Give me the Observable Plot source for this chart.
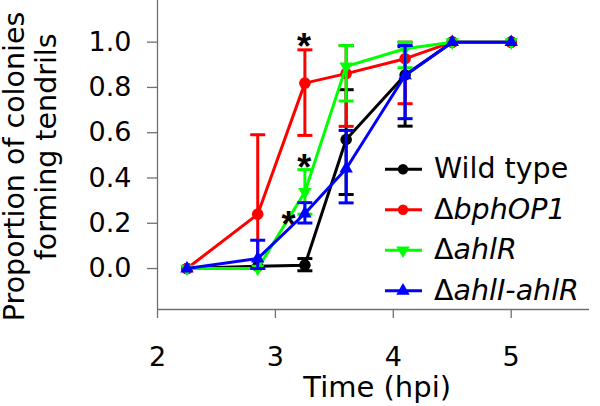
<!DOCTYPE html>
<html>
<head>
<meta charset="utf-8">
<script src="https://cdn.jsdelivr.net/npm/d3@7"></script>
<script src="https://cdn.jsdelivr.net/npm/@observablehq/plot@0.6"></script>
<style>
  html, body { margin: 0; padding: 0; background: #fff; }
  #chart svg { display: block; }
  g[aria-label$="axis tick"] { stroke: #707070; stroke-width: 1.3px; }
  g[aria-label$="axis"] .tick line { stroke: #707070; stroke-width: 1.3px; }
</style>
</head>
<body>
<div id="chart"></div>
<script>
// ---- data ----
const times = [2.25, 2.85, 3.25, 3.6, 4.1, 4.5, 5.0];

const wildType   = [0, 0.01, 0.015, 0.57, 0.855, 1, 1];
const wildTypeLo = [null, null, -0.01, 0.327, 0.629, null, null];
const wildTypeHi = [null, null, 0.044, 0.79, 0.98, null, null];

const bphOP1   = [0, 0.24, 0.819, 0.861, 0.927, 1, 1];
const bphOP1Lo = [null, 0.0, 0.588, 0.628, 0.728, null, null];
const bphOP1Hi = [null, 0.591, 0.966, 0.985, 1.0, null, null];

const ahlR   = [0, 0, 0.338, 0.893, 0.971, 1, 1];
const ahlRLo = [null, null, 0.24, 0.74, 0.887, null, null];
const ahlRHi = [null, null, 0.437, 0.985, 1.0, null, null];

const ahlIahlR   = [0, 0.044, 0.243, 0.441, 0.853, 1, 1];
const ahlIahlRLo = [null, 0.0, 0.201, 0.29, 0.662, null, null];
const ahlIahlRHi = [null, 0.125, 0.291, 0.61, 0.985, null, null];

const seriesNames   = ["Wild type", "bphOP1", "ahlR", "ahlI-ahlR"];
const seriesPrefix  = ["", "\u0394", "\u0394", "\u0394"];
const seriesItalic  = [false, true, true, true];
const seriesColors  = ["#000000", "#ff0000", "#00ff00", "#0000ff"];

const starX = [3.243, 3.244, 3.111];
const starY = [1.015, 0.481, 0.228];

const xTicks = [2, 3, 4, 5];
const yTicks = [0, 0.2, 0.4, 0.6, 0.8, 1.0];
const xLabel = "Time (hpi)";
const yLabel1 = "Proportion of colonies";
const yLabel2 = "forming tendrils";

// ---- symbols ----
const sqrt3 = Math.sqrt(3);
const triangleDown = {
  draw(ctx, size) {
    const y = -Math.sqrt(size / (sqrt3 * 3));
    ctx.moveTo(0, -y * 2);
    ctx.lineTo(-sqrt3 * y, y);
    ctx.lineTo(sqrt3 * y, y);
    ctx.closePath();
  }
};
const capSymbol = {
  draw(ctx, size) {
    const r = Math.sqrt(size / Math.PI);
    ctx.moveTo(-r, 0);
    ctx.lineTo(r, 0);
  }
};

const seriesValues = [wildType, bphOP1, ahlR, ahlIahlR];
const seriesLo = [wildTypeLo, bphOP1Lo, ahlRLo, ahlIahlRLo];
const seriesHi = [wildTypeHi, bphOP1Hi, ahlRHi, ahlIahlRHi];
const seriesSymbols = ["circle", "circle", triangleDown, "triangle"];
const seriesR = [5.8, 5.8, 5, 5];
const legendSymbols = [d3.symbolCircle, d3.symbolCircle, triangleDown, d3.symbolTriangle];
const legendR = [5.2, 5.2, 5, 5];

const FONT = "'DejaVu Sans', 'Liberation Sans', Arial, sans-serif";

const marks = [];
// axis lines (left and bottom)
marks.push(Plot.ruleX([2], {stroke: "#707070", strokeWidth: 1.3}));
marks.push(Plot.ruleY([-0.181], {stroke: "#707070", strokeWidth: 1.3}));

seriesNames.forEach((name, k) => {
  const rows = times.map((t, i) => ({t, v: seriesValues[k][i], lo: seriesLo[k][i], hi: seriesHi[k][i]}));
  const err = rows.filter(d => d.lo != null && d.hi != null);
  const color = seriesColors[k];
  marks.push(Plot.ruleX(err, {x: "t", y1: "lo", y2: "hi", stroke: color, strokeWidth: 3}));
  marks.push(Plot.dot(err, {x: "t", y: "hi", symbol: capSymbol, r: 7.5, stroke: color, strokeWidth: 3, fill: "none"}));
  marks.push(Plot.dot(err, {x: "t", y: "lo", symbol: capSymbol, r: 7.5, stroke: color, strokeWidth: 3, fill: "none"}));
  marks.push(Plot.line(rows, {x: "t", y: "v", stroke: color, strokeWidth: 3}));
  marks.push(Plot.dot(rows, {x: "t", y: "v", symbol: seriesSymbols[k], r: seriesR[k], fill: color, stroke: "none"}));
});

// significance asterisks
marks.push(Plot.text(starX.map((x, i) => ({x, y: starY[i]})), {
  x: "x", y: "y", text: () => "*", fontSize: 36, fontWeight: "bold", fontFamily: "'Liberation Sans', Arial, sans-serif",
  fill: "#000", dy: 9, lineAnchor: "middle"
}));

// axis titles
marks.push(Plot.text([yLabel1], {text: d => d, frameAnchor: "left", rotate: -90, dx: -142.3, dy: 11.4, fontSize: 28.5, lineAnchor: "middle", textAnchor: "middle"}));
marks.push(Plot.text([yLabel2], {text: d => d, frameAnchor: "left", rotate: -90, dx: -111, dy: -8.2, fontSize: 28.5, lineAnchor: "middle", textAnchor: "middle"}));
marks.push(Plot.text([xLabel], {text: d => d, frameAnchor: "bottom", lineAnchor: "top", dy: 67, dx: 3.7, fontSize: 29}));

// legend inside the plot
marks.push(() => {
  const g = d3.create("svg:g").attr("text-anchor", "start");
  const y0 = 169.3, dy = 40.5;
  seriesNames.forEach((name, k) => {
    const y = y0 + k * dy;
    g.append("line").attr("x1", 385).attr("x2", 422).attr("y1", y).attr("y2", y)
      .attr("stroke", seriesColors[k]).attr("stroke-width", 3);
    const r = legendR[k];
    g.append("path").attr("transform", `translate(403,${y})`)
      .attr("d", d3.symbol(legendSymbols[k], Math.PI * r * r)())
      .attr("fill", seriesColors[k]);
    const t = g.append("text").attr("x", 434).attr("y", y).attr("dy", "0.32em")
      .attr("text-anchor", "start")
      .attr("font-size", 28.5).attr("fill", "#000");
    if (seriesPrefix[k]) t.append("tspan").text(seriesPrefix[k]);
    t.append("tspan").attr("font-style", seriesItalic[k] ? "italic" : "normal").text(name);
  });
  return g.node();
});

const chart = Plot.plot({
  width: 600,
  height: 406,
  marginTop: 0,
  marginLeft: 157,
  marginRight: 11,
  marginBottom: 97,
  style: {fontFamily: FONT, fontSize: "27px", background: "#fff", color: "#000"},
  x: {domain: [2, 5.664], ticks: xTicks, tickSize: 9, tickPadding: 28, tickFormat: d => String(d), label: null},
  y: {domain: [-0.181, 1.184], ticks: yTicks, tickSize: 10, tickPadding: 16, tickFormat: ".1f", label: null},
  marks
});
document.getElementById("chart").appendChild(chart);
</script>
</body>
</html>
